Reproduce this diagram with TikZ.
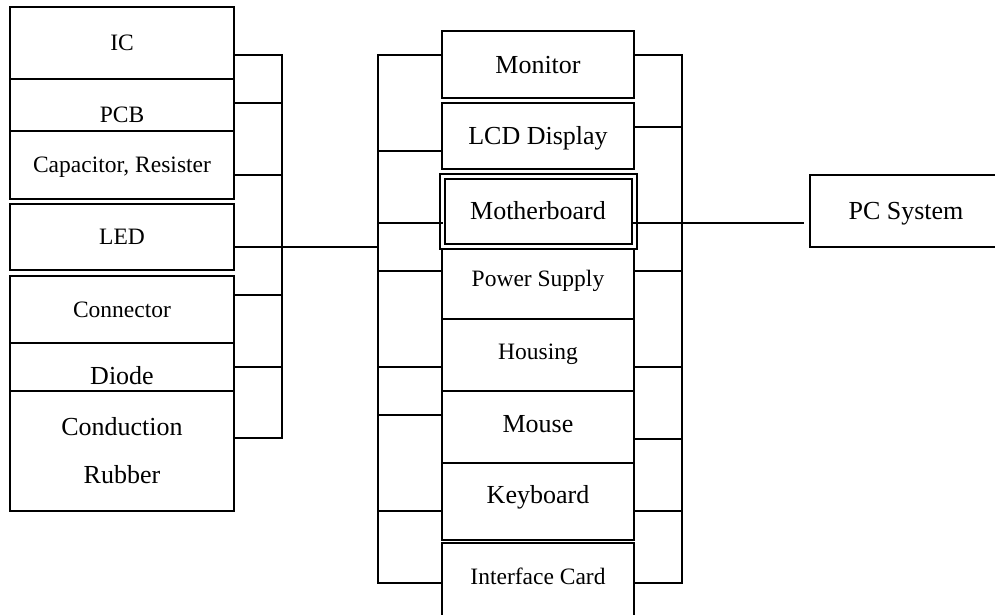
\documentclass[tikz,border=0pt]{standalone}
\usepackage{fontspec}
\setmainfont{Liberation Serif}

\begin{document}
\begin{tikzpicture}[x=1pt,y=-1pt]
\tikzset{box/.style={draw,line width=1.6pt,inner sep=0pt,outer sep=0pt},
  sm/.style={box,font=\fontsize{23.5}{28}\selectfont,text height=15.6pt,text depth=0pt},
  lg/.style={box,font=\fontsize{26}{31}\selectfont,text height=17.2pt,text depth=0pt},
  part/.style={minimum width=224pt},
  unit/.style={minimum width=192pt},
  wire/.style={line width=1.6pt,line cap=rect}}
\useasboundingbox (0,0) rectangle (995,615);

% parts, left column
\node[sm,part,minimum height=72pt] (ic) at (122,43) {IC};
\node[sm,part,minimum height=52pt,text height=35.6pt] (pcb) at (122,105) {PCB};
\node[sm,part,minimum height=68pt] (cap) at (122,165) {Capacitor, Resister};
\node[sm,part,minimum height=66pt] (led) at (122,237) {LED};
\node[sm,part,minimum height=67pt] (con) at (122,309.5) {Connector};
\node[lg,part,minimum height=48pt,text height=35.2pt] (dio) at (122,367) {Diode};
\node[box,part,minimum height=120pt,align=center,font=\fontsize{26}{31}\selectfont]
  (rub) at (122,451) {Conduction\\[17pt]Rubber};

% units, middle column
\node[lg,unit,minimum height=67pt] (mon) at (538,64.5) {Monitor};
\node[lg,unit,minimum height=66pt] (lcd) at (538,136) {LCD Display};
\node[lg,unit,minimum height=70pt,line width=2pt,double,double distance=3pt] (mb) at (538,211) {Motherboard};
\node[sm,unit,minimum height=70pt,text depth=10pt] (pow) at (538,284) {Power Supply};
\node[sm,unit,minimum height=72pt,text depth=6pt] (hou) at (538,355) {Housing};
\node[lg,unit,minimum height=72pt,text depth=6pt] (mou) at (538,427) {Mouse};
\node[lg,unit,minimum height=77pt,text depth=14pt] (key) at (538,501.5) {Keyboard};
\node[sm,unit,minimum height=73pt,text depth=6pt] (icard) at (538,579.5) {Interface Card};

% the system
\node[lg,unit,minimum height=72pt] (pc) at (906,211) {PC System};

% bus of the parts
\coordinate (ltop) at (282,55);
\coordinate (lbot) at (282,438);
\draw[wire] (ltop) -- (lbot);
\foreach \n/\yy in {ic/55,pcb/103,cap/175,con/295,dio/367,rub/438}
  \draw[wire] (\n.east |- 0,\yy) -- (ltop |- 0,\yy);

% buses of the units, left and right
\coordinate (mltop) at (378,55);
\coordinate (mlbot) at (378,583);
\coordinate (mrtop) at (682,55);
\coordinate (mrbot) at (682,583);
\draw[wire] (mltop) -- (mlbot);
\draw[wire] (mrtop) -- (mrbot);
\foreach \n/\yl/\yr in {mon/55/55,lcd/151/127,mb/223/223,pow/271/271,hou/367/367,mou/415/439,key/511/511,icard/583/583}
{
    \draw[wire] (\n.west |- 0,\yl) -- (mltop |- 0,\yl);
    \draw[wire] (\n.east |- 0,\yr) -- (mrtop |- 0,\yr);
}

% parts to units, motherboard to system
\draw[wire] (led.east |- 0,247) -- (mltop |- 0,247);
\draw[wire,shorten >=7pt] (mb.east |- 0,223) -- (pc.west |- 0,223);
\end{tikzpicture}
\end{document}
